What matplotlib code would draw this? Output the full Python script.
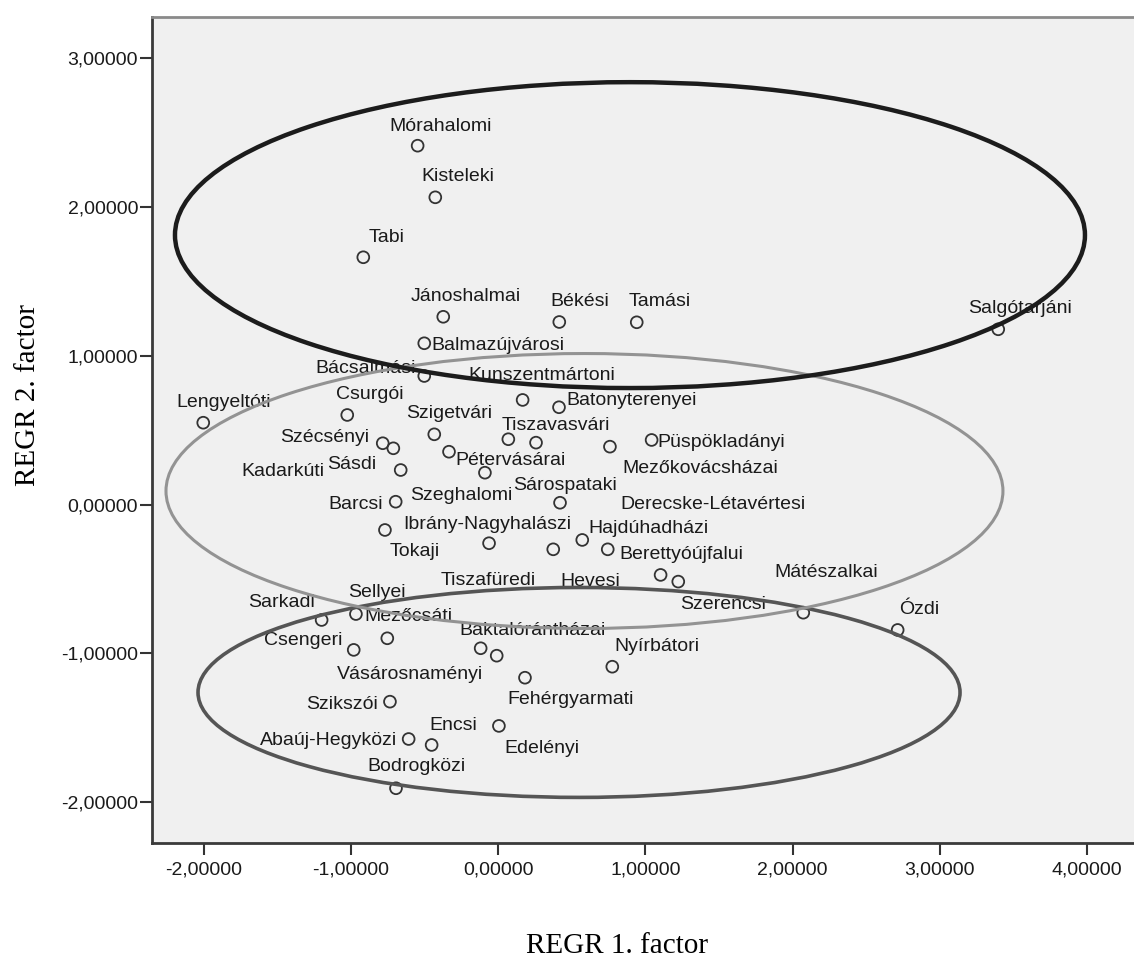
import matplotlib
matplotlib.use("Agg")
import matplotlib.pyplot as plt
from matplotlib.patches import Ellipse
from matplotlib.ticker import FuncFormatter

# regression factor scores per district
names = ["Mórahalomi", "Kisteleki", "Tabi", "Jánoshalmai", "Békési", "Tamási",
         "Salgótarjáni", "Balmazújvárosi", "Bácsalmási", "Kunszentmártoni",
         "Batonyterenyei", "Lengyeltóti", "Csurgói", "Szigetvári", "Szécsényi",
         "Kadarkúti", "Sásdi", "Pétervásárai", "Szeghalomi", "Tiszavasvári",
         "Sárospataki", "Mezőkovácsházai", "Püspökladányi", "Barcsi",
         "Derecske-Létavértesi", "Ibrány-Nagyhalászi", "Tokaji", "Tiszafüredi",
         "Hajdúhadházi", "Berettyóújfalui", "Hevesi", "Mátészalkai", "Sarkadi",
         "Sellyei", "Mezőcsáti", "Csengeri", "Baktalórántházai", "Vásárosnaményi",
         "Fehérgyarmati", "Nyírbátori", "Szikszói", "Abaúj-Hegyközi", "Encsi",
         "Edelényi", "Bodrogközi", "Szerencsi", "Ózdi"]
factor1 = [-0.547, -0.427, -0.916, -0.373, 0.415, 0.941, 3.396, -0.502, -0.502,
           0.166, 0.413, -2.003, -1.025, -0.434, -0.784, -0.712, -0.662, -0.334,
           -0.090, 0.069, 0.257, 0.759, 1.042, -0.696, 0.420, -0.769, -0.062,
           0.374, 0.571, 0.744, 1.103, 1.223, -1.199, -0.966, -0.753, -0.981,
           -0.119, -0.010, 0.182, 0.775, -0.735, -0.608, -0.452, 0.005, -0.694,
           2.072, 2.713]
factor2 = [2.412, 2.065, 1.662, 1.262, 1.227, 1.225, 1.178, 1.084, 0.864, 0.703,
           0.654, 0.550, 0.602, 0.472, 0.412, 0.378, 0.232, 0.355, 0.214, 0.439,
           0.416, 0.389, 0.434, 0.019, 0.012, -0.171, -0.260, -0.301, -0.238,
           -0.301, -0.473, -0.518, -0.776, -0.736, -0.899, -0.977, -0.966, -1.016,
           -1.164, -1.090, -1.325, -1.576, -1.616, -1.488, -1.907, -0.727, -0.843]

# label offsets from each point, in pixels (x right, y up)
label_dx = [-28, -14, 5, -33, -9, -8, -30, 7, -109, -54, 7, -27, -11, -28, -103,
            -152, -74, 6, -75, -7, -23, 12, 6, -67, 60, 18, -99, -113, 6, 12,
            -100, 96, -74, -8, -23, -90, -21, -160, -18, 2, -84, -149, -2, 5, -29,
            -123, 1]
label_dy = [15, 16, 15, 16, 16, 16, 16, -7, 3, 20, 2, 16, 16, 16, 1, -28, 1, -13,
            -27, 9, -47, -26, -7, -7, -6, 1, -13, -36, 7, -10, -11, 5, 13, 17, 17,
            5, 13, -23, -26, 16, -7, -6, 15, -27, 17, 4, 16]

# cluster ellipses: centre x, centre y, width, height, colour, line width
ell_x = [0.549, 0.586, 0.895]
ell_y = [-1.263, 0.091, 1.811]
ell_w = [5.175, 5.684, 6.18]
ell_h = [1.411, 1.848, 2.056]
ell_col = ["#555555", "#939393", "#1c1c1c"]
ell_lw = [2.6, 2.2, 3.2]

W, H = 1134, 960
fig = plt.figure(figsize=(W / 100, H / 100), dpi=100)
ax = fig.add_axes([152 / W, 117 / H, 1 - 152 / W, (843 - 17) / H])
ax.set_facecolor("#f0f0f0")

ax.scatter(factor1, factor2, s=72, facecolors="none", edgecolors="#333333",
           linewidths=1.3, zorder=3)

for n, x, y, dx, dy in zip(names, factor1, factor2, label_dx, label_dy):
    ax.annotate(n, (x, y), xytext=(dx, dy), textcoords="offset pixels",
                ha="left", va="baseline", fontsize=14, color="#1a1a1a",
                family="Liberation Sans", zorder=4)

for cx, cy, w, h, c, lw in zip(ell_x, ell_y, ell_w, ell_h, ell_col, ell_lw):
    ax.add_patch(Ellipse((cx, cy), w, h, fill=False, edgecolor=c, lw=lw, zorder=5))

ax.set_xlim(-2.351, 4.318)
ax.set_ylim(-2.275, 3.277)
ax.set_xticks([-2, -1, 0, 1, 2, 3, 4])
ax.set_yticks([-2, -1, 0, 1, 2, 3])
fmt = FuncFormatter(lambda v, p: f"{v:.5f}".replace(".", ","))
ax.xaxis.set_major_formatter(fmt)
ax.yaxis.set_major_formatter(fmt)
ax.tick_params(length=8.5, width=1.5, color="#333333", labelsize=14,
               labelcolor="#1a1a1a")
ax.tick_params(axis="x", pad=5)
ax.tick_params(axis="y", pad=1.5)
for lab in ax.get_xticklabels() + ax.get_yticklabels():
    lab.set_family("Liberation Sans")

ax.spines["right"].set_visible(False)
ax.spines["top"].set_color("#8a8a8a")
ax.spines["top"].set_linewidth(2)
for s in ["left", "bottom"]:
    ax.spines[s].set_color("#3a3a3a")
    ax.spines[s].set_linewidth(2)

fig.text(616.5 / W, 7 / H, "REGR 1. factor", ha="center", va="baseline",
         fontsize=21, family="Liberation Serif")
fig.text(35 / W, 1 - 395 / H, "REGR 2. factor", ha="center", va="baseline",
         rotation=90, rotation_mode="anchor", fontsize=21, family="Liberation Serif")

fig.savefig("out.png", dpi=100)
